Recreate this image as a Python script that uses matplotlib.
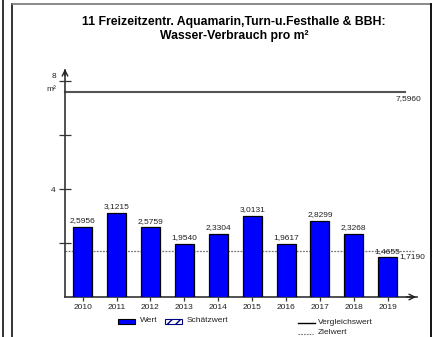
import matplotlib.pyplot as plt
from matplotlib.lines import Line2D
from matplotlib.patches import Rectangle

plt.rcParams['font.family'] = ['Liberation Sans', 'DejaVu Sans']

# data
years = ['2010', '2011', '2012', '2013', '2014', '2015', '2016', '2017', '2018', '2019']
werte = [2.5956, 3.1215, 2.5759, 1.9540, 2.3304, 3.0131, 1.9617, 2.8299, 2.3268, 1.4655]
vergleichswert = 7.5960
zielwert = 1.7190
title_lines = ['11 Freizeitzentr. Aquamarin,Turn-u.Festhalle & BBH:', 'Wasser-Verbrauch pro m²']

W, H = 435, 337
fig = plt.figure(figsize=(W / 100, H / 100), dpi=100)

def fx(px):
    return px / W

def fy(py):
    return 1 - py / H

# axes: y=0 at px 297, 27 px per unit; x from -0.52 at px 65, 33.9 px per slot
ymax = 8.4
xmin, xmax = -0.52, 9.87
ax = fig.add_axes([fx(65), fy(297), fx(xmax - xmin) * 33.9, 27 * ymax / H])
ax.set_xlim(xmin, xmax)
ax.set_ylim(0, ymax)
for s in ['top', 'right']:
    ax.spines[s].set_visible(False)
ax.spines['left'].set_color('#333333')
ax.spines['bottom'].set_color('#333333')
ax.spines['left'].set_linewidth(1.2)
ax.spines['bottom'].set_linewidth(1.2)

x = list(range(len(years)))
ax.bar(x, werte, width=0.56, color='#0000FF', edgecolor='black', linewidth=0.9, zorder=3)
for xi, v in zip(x, werte):
    ax.annotate(f'{v:.4f}'.replace('.', ','), (xi, v), xytext=(0, 2), textcoords='offset points',
                ha='center', va='bottom', fontsize=6, color='#222222', zorder=4)

# Vergleichswert
ax.plot([xmin, 9.5], [vergleichswert, vergleichswert], color='#555555', lw=1.5, clip_on=False, zorder=2)
ax.text(10.0, vergleichswert - 0.12, f'{vergleichswert:.4f}'.replace('.', ','), ha='right', va='top',
        fontsize=6, color='#222222')
# Zielwert
ax.plot([xmin, 9.8], [zielwert, zielwert], color='#777777', lw=0.9, ls=(0, (1.5, 1)), clip_on=False, zorder=2)
ax.text(10.1, zielwert - 0.08, f'{zielwert:.4f}'.replace('.', ','), ha='right', va='top',
        fontsize=6, color='#222222')

ax.set_xticks(x)
ax.set_xticklabels(years, fontsize=6, color='#222222')
ax.tick_params(axis='x', direction='out', length=3, width=0.9, pad=2, colors='#333333', labelcolor='#222222')
ax.set_yticks([2, 4, 6, 8])
ax.set_yticklabels(['', '4', '', ''], fontsize=6)
ax.tick_params(axis='y', direction='inout', length=8, width=0.9, pad=3, colors='#333333', labelcolor='#222222')
ax.text(-0.78, 8.15, '8', ha='right', va='center', fontsize=6, color='#222222')
ax.text(-0.78, 7.7, 'm²', ha='right', va='center', fontsize=6, color='#222222')

# axis arrows
ax.annotate('', xy=(xmin, ymax + 0.15), xytext=(xmin, ymax - 0.3),
            arrowprops=dict(arrowstyle='->', color='#222222', lw=1.0), annotation_clip=False)
ax.annotate('', xy=(xmax + 0.05, 0), xytext=(xmax - 0.4, 0),
            arrowprops=dict(arrowstyle='->', color='#222222', lw=1.0), annotation_clip=False)

# title
fig.text(fx(234), fy(22), title_lines[0], ha='center', va='center', fontsize=8.8, fontweight='bold')
fig.text(fx(234), fy(36), title_lines[1], ha='center', va='center', fontsize=8.8, fontweight='bold')

# legend
fig.patches.append(Rectangle((fx(118), fy(323.5)), fx(17), 5 / H, transform=fig.transFigure,
                             facecolor='#0000FF', edgecolor='black', lw=0.8))
fig.text(fx(140), fy(321), 'Wert', ha='left', va='center', fontsize=6, color='#222222')
fig.patches.append(Rectangle((fx(165), fy(323.5)), fx(17), 5 / H, transform=fig.transFigure,
                             facecolor='white', edgecolor='#000080', hatch='////', lw=0.8))
fig.text(fx(187), fy(321), 'Schätzwert', ha='left', va='center', fontsize=6, color='#222222')
fig.lines.append(Line2D([fx(298), fx(315)], [fy(323), fy(323)], transform=fig.transFigure,
                        color='black', lw=1.0))
fig.text(fx(318), fy(322), 'Vergleichswert', ha='left', va='center', fontsize=6, color='#222222')
fig.lines.append(Line2D([fx(298), fx(313)], [fy(334), fy(334)], transform=fig.transFigure,
                        color='#777777', lw=0.8, ls=(0, (1.5, 1))))
fig.text(fx(318), fy(333), 'Zielwert', ha='left', va='center', fontsize=6, color='#222222')

# page frame
fig.lines.append(Line2D([fx(3), fx(3)], [0, 1], transform=fig.transFigure, color='#222222', lw=1.3))
fig.lines.append(Line2D([fx(12.5), fx(12.5)], [0, fy(3.5)], transform=fig.transFigure, color='#222222', lw=1.3))
fig.lines.append(Line2D([fx(12.5), fx(431.5)], [fy(3.5), fy(3.5)], transform=fig.transFigure, color='#777777', lw=1.2))
fig.lines.append(Line2D([fx(431.5), fx(431.5)], [0, fy(3.5)], transform=fig.transFigure, color='black', lw=1.3))

fig.savefig('out.png', dpi=100)
